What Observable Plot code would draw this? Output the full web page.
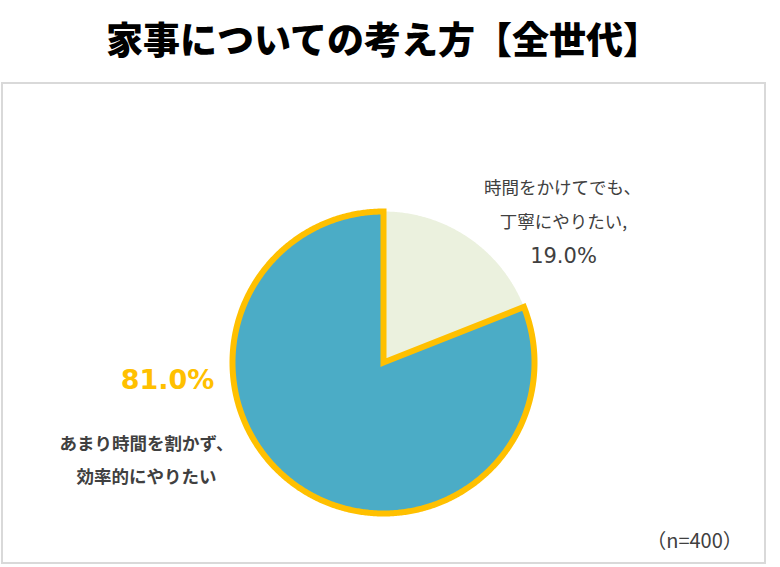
<!DOCTYPE html>
<html><head><meta charset="utf-8">
<script src="https://cdn.jsdelivr.net/npm/d3@7"></script>
<script src="https://cdn.jsdelivr.net/npm/@observablehq/plot@0.6"></script>
<style>
body{margin:0;background:#fff;}
#wrap{position:relative;width:780px;height:567px;overflow:hidden;background:#fff;}
#title{position:absolute;left:0;top:14px;width:766px;text-align:center;font-family:"Noto Sans CJK JP";font-weight:900;font-size:37px;line-height:48px;color:#000;}
#box{position:absolute;left:1px;top:82px;width:761px;height:478px;border:2px solid #d9d9d9;}
#chart{position:absolute;left:0;top:0;}
</style></head><body>
<div id="wrap"><div id="title"></div><div id="box"></div><div id="chart"></div></div>
<script>
const title = "家事についての考え方【全世代】";
const categories = ["時間をかけてでも、丁寧にやりたい", "あまり時間を割かず、効率的にやりたい"];
const categoryLines = [["時間をかけてでも、", "丁寧にやりたい,"], ["あまり時間を割かず、", "効率的にやりたい"]];
const values = [19.0, 81.0];
const colors = ["#EBF1DE", "#4BACC6"];
const highlight = "#FFC000";
const sampleSize = "（n=400）";

document.getElementById("title").textContent = title;

const cx = 383, cy = 362, R = 151;
const ux = px => (px - cx) / R;
const uy = py => (cy - py) / R;

const arcs = d3.pie().sort(null)(values);
const pts = arcs.flatMap((a, i) => {
  const steps = Math.max(2, Math.ceil((a.endAngle - a.startAngle) / (Math.PI / 360)));
  const arr = [{k: categories[i], x: 0, y: 0}];
  for (let s = 0; s <= steps; s++) {
    const t = a.startAngle + (a.endAngle - a.startAngle) * s / steps;
    arr.push({k: categories[i], x: Math.sin(t), y: Math.cos(t)});
  }
  return arr;
});
const pct = values.map(v => v.toFixed(1) + "%");

const rightText = [
  {x: ux(562), y: uy(188), t: categoryLines[0][0]},
  {x: ux(563), y: uy(222), t: categoryLines[0][1]}
];
const leftText = [
  {x: ux(146), y: uy(444), t: categoryLines[1][0]},
  {x: ux(146), y: uy(477), t: categoryLines[1][1]}
];

const chart = Plot.plot({
  width: 780, height: 567,
  marginTop: 0, marginBottom: 0, marginLeft: 0, marginRight: 0,
  x: {domain: [-1, 1], range: [cx - R, cx + R], axis: null},
  y: {domain: [-1, 1], range: [cy + R, cy - R], axis: null},
  style: {background: "transparent", overflow: "visible"},
  marks: [
    Plot.line(pts.filter(d => d.k === categories[0]), {x: "x", y: "y", fill: colors[0], stroke: "none", curve: "linear-closed"}),
    Plot.line(pts.filter(d => d.k === categories[1]), {x: "x", y: "y", fill: colors[1], stroke: highlight, strokeWidth: 6, strokeLinejoin: "miter", strokeMiterlimit: 10, curve: "linear-closed"}),
    Plot.text(rightText, {x: "x", y: "y", text: "t", fontFamily: "Noto Sans CJK JP", fontSize: 17.5, fill: "#404040"}),
    Plot.text([pct[0]], {x: ux(563), y: uy(256), text: d => d, fontFamily: "DejaVu Sans", fontSize: 21, fill: "#404040"}),
    Plot.text([pct[1]], {x: ux(167), y: uy(380), text: d => d, fontFamily: "DejaVu Sans", fontWeight: "bold", fontSize: 27, fill: highlight}),
    Plot.text(leftText, {x: "x", y: "y", text: "t", fontFamily: "Noto Sans CJK JP", fontWeight: "bold", fontSize: 17.5, fill: "#404040"}),
    Plot.text([sampleSize], {x: ux(694), y: uy(541), text: d => d, fontFamily: "Noto Sans CJK JP", fontSize: 20, fill: "#404040"})
  ]
});
document.getElementById("chart").appendChild(chart);
</script>
</body></html>
